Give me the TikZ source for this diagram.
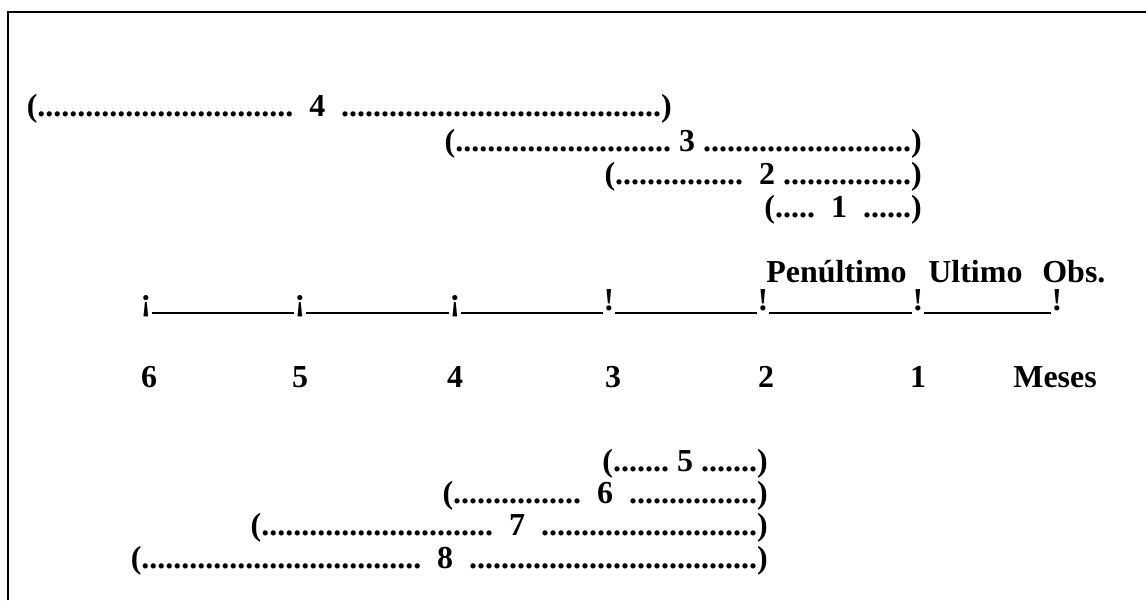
\documentclass[tikz,border=0pt]{standalone}
\usepackage{fontspec}
\setmainfont{Liberation Serif}
\newcommand{\mesfont}{\bfseries\frenchspacing\fontsize{18.2}{21}\selectfont}
\tikzstyle{span}=[font=\mesfont,inner sep=0pt,anchor=base east]
\tikzstyle{lbl}=[font=\mesfont,inner sep=0pt,anchor=base west]
\tikzstyle{tick}=[font=\mesfont,inner sep=0pt,anchor=base]
\tikzstyle{rule}=[line width=0.9pt]

\begin{document}
\begin{tikzpicture}[x=0.02cm,y=-0.02cm]
        \useasboundingbox (0,0) rectangle (1146,600);
        \draw [line width=1.2pt] (8,600) -- (8,12) -- (1146,12);
        % intervalos de arriba
        \node [style=span] (p4) at (672,116) {(................................\ \ 4\ \ ........................................)};
        \node [style=span] (p3) at (922,151) {(........................... 3 ..........................)};
        \node [style=span] (p2) at (922,184) {(................\ \ 2 ................)};
        \node [style=span] (p1) at (922,217) {(.....\ \ 1\ \ ......)};
        % etiquetas
        \node [style=lbl] (pen) at (766,282) {Penúltimo};
        \node [style=lbl] (ult) at (928,282) {Ultimo};
        \node [style=lbl] (obs) at (1042,282) {Obs.};
        % eje
        \node [style=tick] (t6) at (146,310) {¡};
        \node [style=tick] (t5) at (300,310) {¡};
        \node [style=tick] (t4) at (455,310) {¡};
        \node [style=tick] (t3) at (609,310) {!};
        \node [style=tick] (t2) at (763,310) {!};
        \node [style=tick] (t1) at (918,310) {!};
        \node [style=tick] (t0) at (1057,310) {!};
        \draw [style=rule] ([yshift=-0.06cm]t6.base east) -- ([yshift=-0.06cm]t5.base west);
        \draw [style=rule] ([yshift=-0.06cm]t5.base east) -- ([yshift=-0.06cm]t4.base west);
        \draw [style=rule] ([yshift=-0.06cm]t4.base east) -- ([yshift=-0.06cm]t3.base west);
        \draw [style=rule] ([yshift=-0.06cm]t3.base east) -- ([yshift=-0.06cm]t2.base west);
        \draw [style=rule] ([yshift=-0.06cm]t2.base east) -- ([yshift=-0.06cm]t1.base west);
        \draw [style=rule] ([yshift=-0.06cm]t1.base east) -- ([yshift=-0.06cm]t0.base west);
        % meses
        \node [style=tick] (m6) at (149,387) {6};
        \node [style=tick] (m5) at (300,387) {5};
        \node [style=tick] (m4) at (455,387) {4};
        \node [style=tick] (m3) at (613,387) {3};
        \node [style=tick] (m2) at (766,387) {2};
        \node [style=tick] (m1) at (918,387) {1};
        \node [style=lbl] (mes) at (1013,387) {Meses};
        % intervalos de abajo
        \node [style=span] (p5) at (768,471) {(....... 5 .......)};
        \node [style=span] (p6) at (768,503) {(................\ \ 6\ \ ................)};
        \node [style=span] (p7) at (768,535) {(.............................\ \ 7\ \ ...........................)};
        \node [style=span] (p8) at (768,568) {(...................................\ \ 8\ \ ....................................)};
    \end{tikzpicture}
\end{document}
